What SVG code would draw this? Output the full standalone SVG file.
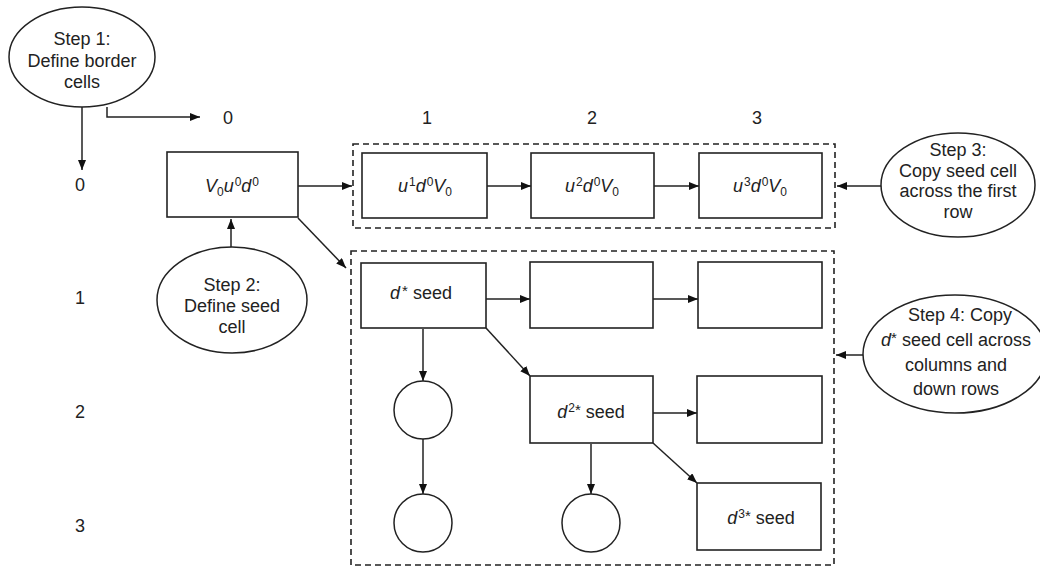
<svg xmlns="http://www.w3.org/2000/svg" width="1040" height="568" viewBox="0 0 1040 568">
<defs>
<marker id="ah" viewBox="0 0 10 8" refX="10" refY="4" markerWidth="10" markerHeight="8" markerUnits="userSpaceOnUse" orient="auto">
<path d="M0,0 L10,4 L0,8 Z" fill="#111"/>
</marker>
</defs>
<style>
.box{fill:#fff;stroke:#222;stroke-width:1.6}
.ell{fill:#fff;stroke:#222;stroke-width:1.5}
.dash{fill:none;stroke:#222;stroke-width:1.6;stroke-dasharray:6 4}
.con{fill:none;stroke:#222;stroke-width:1.5;marker-end:url(#ah)}
text{font-family:"Liberation Sans",Arial,sans-serif;fill:#222;text-anchor:middle}
.lbl{font-size:18px}
.st{font-size:18px}
.cell{font-size:18px;font-style:italic}
.sup{font-size:12px;font-style:normal}
.star{font-size:15px;font-style:normal}
</style>
<rect width="1040" height="568" fill="#fff"/>

<g id="labels">
<text class="lbl" x="228" y="124">0</text>
<text class="lbl" x="427" y="124">1</text>
<text class="lbl" x="592" y="124">2</text>
<text class="lbl" x="757" y="124">3</text>
<text class="lbl" x="80" y="191">0</text>
<text class="lbl" x="80" y="304">1</text>
<text class="lbl" x="80" y="418">2</text>
<text class="lbl" x="80" y="532">3</text>
</g>

<g id="groups">
<rect class="dash" x="353" y="144" width="482" height="84"/>
<rect class="dash" x="351" y="251" width="483" height="314"/>
</g>

<g id="connectors">
<path class="con" d="M82,107 V170"/>
<path class="con" d="M107,107 V117 H200"/>
<path class="con" d="M298,186 H352"/>
<path class="con" d="M487,186 H531"/>
<path class="con" d="M654,186 H699"/>
<path class="con" d="M882,186 H837"/>
<path class="con" d="M231,248 V219"/>
<path class="con" d="M298,218 L346,268"/>
<path class="con" d="M863,355 H836"/>
<path class="con" d="M486,299 H530"/>
<path class="con" d="M653,299 H698"/>
<path class="con" d="M486,328 L530,376"/>
<path class="con" d="M423,329 V381"/>
<path class="con" d="M423,439 V494"/>
<path class="con" d="M653,413 H697"/>
<path class="con" d="M653,443 L697,483"/>
<path class="con" d="M591,444 V494"/>
</g>

<g id="step1">
<ellipse class="ell" cx="82" cy="57" rx="73" ry="50"/>
<text class="st" x="82" y="45" font-size="17">Step 1:</text>
<text class="st" x="82" y="67">Define border</text>
<text class="st" x="82" y="88">cells</text>
</g>

<g id="cell00">
<rect class="box" x="167" y="152" width="131" height="65"/>
<text class="cell" x="232" y="192">V<tspan class="sup" dy="4">0</tspan><tspan dy="-4">u</tspan><tspan class="sup" dy="-6" dx="1">0</tspan><tspan dy="6">d</tspan><tspan class="sup" dy="-6" dx="1">0</tspan></text>
</g>

<g id="cell01">
<rect class="box" x="362" y="153" width="125" height="65"/>
<text class="cell" x="425" y="192">u<tspan class="sup" dy="-6" dx="1">1</tspan><tspan dy="6">d</tspan><tspan class="sup" dy="-6" dx="1">0</tspan><tspan dy="6">V</tspan><tspan class="sup" dy="4">0</tspan></text>
</g>

<g id="cell02">
<rect class="box" x="531" y="153" width="123" height="65"/>
<text class="cell" x="592" y="192">u<tspan class="sup" dy="-6" dx="1">2</tspan><tspan dy="6">d</tspan><tspan class="sup" dy="-6" dx="1">0</tspan><tspan dy="6">V</tspan><tspan class="sup" dy="4">0</tspan></text>
</g>

<g id="cell03">
<rect class="box" x="699" y="153" width="123" height="65"/>
<text class="cell" x="760" y="192">u<tspan class="sup" dy="-6" dx="1">3</tspan><tspan dy="6">d</tspan><tspan class="sup" dy="-6" dx="1">0</tspan><tspan dy="6">V</tspan><tspan class="sup" dy="4">0</tspan></text>
</g>

<g id="step3">
<ellipse class="ell" cx="958" cy="185" rx="77" ry="52"/>
<text class="st" x="958" y="156">Step 3:</text>
<text class="st" x="958" y="177">Copy seed cell</text>
<text class="st" x="958" y="197">across the first</text>
<text class="st" x="958" y="218">row</text>
</g>

<g id="step2">
<ellipse class="ell" cx="232" cy="300" rx="75" ry="53"/>
<text class="st" x="232" y="291">Step 2:</text>
<text class="st" x="232" y="312">Define seed</text>
<text class="st" x="232" y="333">cell</text>
</g>

<g id="cell11">
<rect class="box" x="361" y="263" width="125" height="65"/>
<text class="st" x="421" y="299"><tspan font-style="italic">d</tspan><tspan class="star" dy="-3" dx="2">*</tspan><tspan dy="3"> seed</tspan></text>
</g>

<g id="cell12">
<rect class="box" x="530" y="262" width="123" height="66"/>
</g>

<g id="cell13">
<rect class="box" x="698" y="262" width="124" height="66"/>
</g>

<g id="step4">
<ellipse class="ell" cx="955" cy="354" rx="92" ry="59"/>
<text class="st" x="960" y="321">Step 4: Copy</text>
<text class="st" x="956" y="346"><tspan font-style="italic">d</tspan><tspan class="star" dy="-3">*</tspan><tspan dy="3"> seed cell across</tspan></text>
<text class="st" x="956" y="371">columns and</text>
<text class="st" x="956" y="395">down rows</text>
</g>

<g id="circle21">
<circle class="ell" cx="423" cy="410" r="29"/>
</g>

<g id="cell22">
<rect class="box" x="530" y="376" width="123" height="67"/>
<text class="st" x="591" y="418"><tspan font-style="italic">d</tspan><tspan class="sup" dy="-6" dx="1">2</tspan><tspan class="star" dy="3">*</tspan><tspan dy="3"> seed</tspan></text>
</g>

<g id="cell23">
<rect class="box" x="697" y="376" width="125" height="67"/>
</g>

<g id="circle31">
<circle class="ell" cx="423" cy="523" r="29"/>
</g>

<g id="circle32">
<circle class="ell" cx="591" cy="523" r="29"/>
</g>

<g id="cell33">
<rect class="box" x="697" y="483" width="124" height="67"/>
<text class="st" x="761" y="524"><tspan font-style="italic">d</tspan><tspan class="sup" dy="-6" dx="1">3</tspan><tspan class="star" dy="3">*</tspan><tspan dy="3"> seed</tspan></text>
</g>
</svg>
